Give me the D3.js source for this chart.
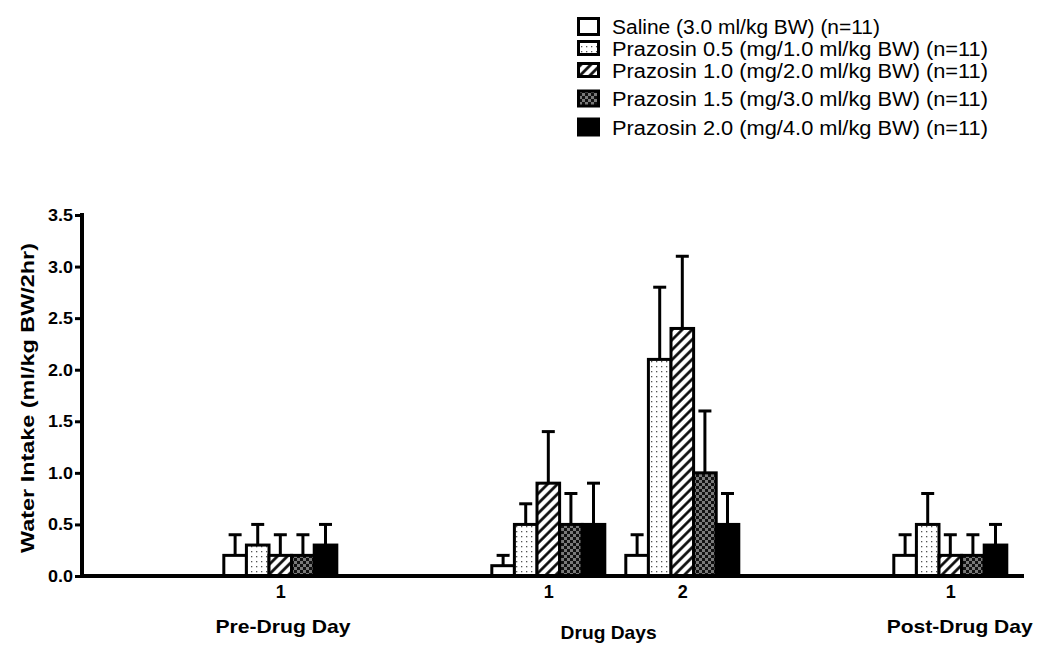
<!DOCTYPE html>
<html><head><meta charset="utf-8">
<script src="https://cdn.jsdelivr.net/npm/d3@7"></script>
<style>body{margin:0;background:#fff}svg{display:block}text{font-family:"Liberation Sans",Arial,sans-serif}</style>
</head><body><svg id="c" width="1050" height="650"></svg>
<script>
const seriesNames = ["Saline (3.0 ml/kg BW) (n=11)","Prazosin 0.5 (mg/1.0 ml/kg BW) (n=11)","Prazosin 1.0 (mg/2.0 ml/kg BW) (n=11)","Prazosin 1.5 (mg/3.0 ml/kg BW) (n=11)","Prazosin 2.0 (mg/4.0 ml/kg BW) (n=11)"];
const slotLabels = ["1","1","2","1"];
const slotPositions = [1,3,4,6];
const groupLabels = ["Pre-Drug Day","Drug Days","Post-Drug Day"];
const groupPositions = [1.02,3.45,6.07];
// means per series for the 4 slots
const meanSaline = [0.2,0.1,0.2,0.2];
const meanP05 = [0.3,0.5,2.1,0.5];
const meanP10 = [0.2,0.9,2.4,0.2];
const meanP15 = [0.2,0.5,1.0,0.2];
const meanP20 = [0.3,0.5,0.5,0.3];
// error (upper SEM)
const errSaline = [0.2,0.1,0.2,0.2];
const errP05 = [0.2,0.2,0.7,0.3];
const errP10 = [0.2,0.5,0.7,0.2];
const errP15 = [0.2,0.3,0.6,0.2];
const errP20 = [0.2,0.4,0.3,0.2];
const yTicks = [0,0.5,1,1.5,2,2.5,3,3.5];

const means = [meanSaline,meanP05,meanP10,meanP15,meanP20];
const errs = [errSaline,errP05,errP10,errP15,errP20];
const fills = ["#fff","url(#dots)","url(#hatch)","url(#check)","#000"];

const svg = d3.select("#c");
const defs = svg.append("defs");
const pd = defs.append("pattern").attr("id","dots").attr("patternUnits","userSpaceOnUse").attr("width",5).attr("height",5);
pd.append("rect").attr("width",5).attr("height",5).attr("fill","#fff");
pd.append("rect").attr("x",1).attr("y",1).attr("width",1.3).attr("height",1.3).attr("fill","#555");
const ph = defs.append("pattern").attr("id","hatch").attr("patternUnits","userSpaceOnUse").attr("width",7).attr("height",7).attr("patternTransform","rotate(45)");
ph.append("rect").attr("width",7).attr("height",7).attr("fill","#fff");
ph.append("line").attr("x1",1.5).attr("x2",1.5).attr("y1",0).attr("y2",7).attr("stroke","#000").attr("stroke-width",2.6);
const pc = defs.append("pattern").attr("id","check").attr("patternUnits","userSpaceOnUse").attr("width",6).attr("height",6);
pc.append("rect").attr("width",6).attr("height",6).attr("fill","#7a7a7a");
pc.append("rect").attr("width",3).attr("height",3).attr("fill","#111");
pc.append("rect").attr("x",3).attr("y",3).attr("width",3).attr("height",3).attr("fill","#111");

const x = d3.scaleLinear().domain([-0.48,6.55]).range([82,1024]);
const y = d3.scaleLinear().domain([0,3.5]).range([576,215]);
const inner = d3.scaleBand().domain(d3.range(5)).range([-56.5,56.5]);

// error bars
means.forEach((arr,s)=>{
  arr.forEach((v,i)=>{
    const cx = x(slotPositions[i]) + inner(s) + inner.bandwidth()/2;
    svg.append("line").attr("x1",cx).attr("x2",cx)
      .attr("y1",y(v)).attr("y2",y(v+errs[s][i])).attr("stroke","#000").attr("stroke-width",3);
    svg.append("line").attr("x1",cx-6.5).attr("x2",cx+6.5)
      .attr("y1",y(v+errs[s][i])).attr("y2",y(v+errs[s][i])).attr("stroke","#000").attr("stroke-width",3);
  });
});
// bars
means.forEach((arr,s)=>{
  arr.forEach((v,i)=>{
    const bx = x(slotPositions[i]) + inner(s);
    svg.append("rect").attr("x",bx).attr("y",y(v)).attr("width",inner.bandwidth()).attr("height",y(0)-y(v))
      .attr("fill",fills[s]).attr("stroke","#000").attr("stroke-width",3);
  });
});

// y axis
const ya = svg.append("g").attr("transform","translate(82,0)")
  .call(d3.axisLeft(y).tickValues(yTicks).tickFormat(d3.format(".1f")).tickSize(7).tickPadding(2));
ya.select(".domain").remove();
ya.selectAll(".tick line").attr("stroke","#000").attr("stroke-width",3);
ya.selectAll(".tick text").attr("font-size",17).attr("font-weight","bold").attr("fill","#000")
  .attr("font-family","Liberation Sans, Arial, sans-serif").attr("textLength",25).attr("lengthAdjust","spacingAndGlyphs");
svg.append("line").attr("x1",82).attr("x2",82).attr("y1",213).attr("y2",578).attr("stroke","#000").attr("stroke-width",4);
svg.append("line").attr("x1",80).attr("x2",1024).attr("y1",576).attr("y2",576).attr("stroke","#000").attr("stroke-width",4);

// x tick labels
const xa = svg.append("g").attr("transform","translate(0,576)")
  .call(d3.axisBottom(x).tickValues(slotPositions).tickFormat((d,i)=>slotLabels[i]).tickSize(0).tickPadding(9));
xa.select(".domain").remove();
xa.selectAll(".tick text").attr("font-size",18).attr("font-weight","bold").attr("fill","#000")
  .attr("font-family","Liberation Sans, Arial, sans-serif");

// group labels
const groupW = [135,96,146];
groupLabels.forEach((g,i)=>{
  svg.append("text").attr("x",x(groupPositions[i])).attr("y", i===1?639:633).attr("text-anchor","middle")
    .attr("font-size",19).attr("font-weight","bold")
    .attr("textLength",groupW[i]).attr("lengthAdjust","spacingAndGlyphs").text(g);
});

// y label
svg.append("text").attr("transform","translate(34,398) rotate(-90)").attr("text-anchor","middle")
  .attr("font-size",19).attr("font-weight","bold")
  .attr("textLength",310).attr("lengthAdjust","spacingAndGlyphs").text("Water Intake (ml/kg BW/2hr)");

// legend
const legY = [26.5,48,70,98.5,127];
const legH = [19,16,16,18,19];
const legW = [268,376,376,376,376];
seriesNames.forEach((n,i)=>{
  svg.append("rect").attr("x",578.5).attr("y",legY[i]-legH[i]/2+1.5).attr("width",20).attr("height",legH[i]-3)
    .attr("fill",fills[i]).attr("stroke","#000").attr("stroke-width",3);
  svg.append("text").attr("x",612).attr("y",legY[i]+7.5).attr("font-size",20)
    .attr("textLength",legW[i]).attr("lengthAdjust","spacingAndGlyphs").text(n);
});
</script></body></html>
